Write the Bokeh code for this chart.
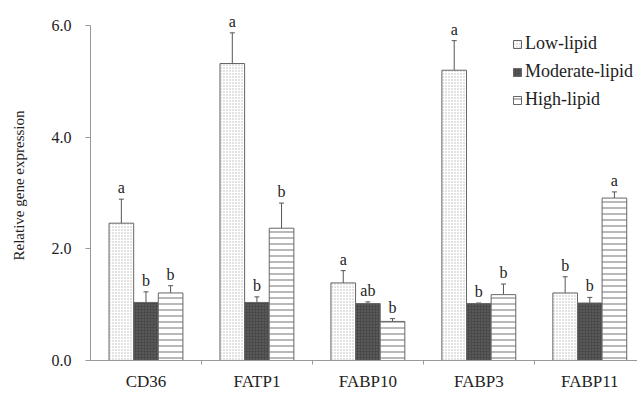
from bokeh.plotting import figure
from bokeh.models import (ColumnDataSource, FixedTicker, Range1d, Whisker, TeeHead,
                          Legend, LegendItem, CustomJSTickFormatter)
from bokeh.core.properties import value
from bokeh.embed import file_html
from bokeh.resources import INLINE

genes = ["CD36", "FATP1", "FABP10", "FABP3", "FABP11"]
groups = ["Low-lipid", "Moderate-lipid", "High-lipid"]
low = [2.46, 5.32, 1.39, 5.20, 1.21]
low_err = [0.43, 0.55, 0.22, 0.53, 0.29]
moderate = [1.04, 1.04, 1.02, 1.02, 1.03]
moderate_err = [0.19, 0.10, 0.03, 0.01, 0.10]
high = [1.21, 2.37, 0.70, 1.18, 2.91]
high_err = [0.13, 0.45, 0.05, 0.19, 0.11]
sig_low = ["a", "a", "a", "a", "b"]
sig_moderate = ["b", "b", "ab", "b", "b"]
sig_high = ["b", "b", "b", "b", "a"]
y_ticks = [0, 2, 4, 6]

FONT = "'Liberation Serif', 'Times New Roman', serif"
bar_w = 0.222
offsets = [-bar_w, 0.0, bar_w]

p = figure(width=637, height=393, output_backend="svg", toolbar_location=None,
           x_range=Range1d(0, 4.93), y_range=Range1d(0, 6.27),
           min_border_left=90, min_border_right=0, min_border_top=10, min_border_bottom=32)
p.outline_line_color = None
p.grid.grid_line_color = None
p.background_fill_color = "white"
p.border_fill_color = "white"

styles = [
    dict(fill_color="white", hatch_pattern="dot", hatch_color="#b8b8b8", hatch_scale=3, hatch_weight=1.0),
    dict(fill_color="#4a4a4a", hatch_pattern="dot", hatch_color="#707070", hatch_scale=3, hatch_weight=1.0),
    dict(fill_color="white", hatch_pattern="horizontal_line", hatch_color="#8a8a8a", hatch_scale=6, hatch_weight=1.2),
]
vals = [low, moderate, high]
errs = [low_err, moderate_err, high_err]
sigs = [sig_low, sig_moderate, sig_high]

renderers = []
for i in range(3):
    xs = [k + 0.5 + offsets[i] for k in range(len(genes))]
    tops = [v + e for v, e in zip(vals[i], errs[i])]
    src = ColumnDataSource(dict(x=xs, top=vals[i], upper=tops, sig=sigs[i]))
    r = p.vbar(x="x", top="top", width=bar_w, source=src, line_color="#666666",
               line_width=1, **styles[i])
    renderers.append(r)
    w = Whisker(base="x", lower="top", upper="upper", source=src, dimension="height",
                line_color="#555555", line_width=1,
                lower_head=None, upper_head=TeeHead(size=5, line_color="#555555", line_width=1))
    p.add_layout(w)
    p.text(x="x", y="upper", text="sig", source=src, text_align="center",
           text_baseline="bottom", y_offset=-3, text_font=value(FONT),
           text_font_size="16px", text_color="#222222")

legend = Legend(items=[LegendItem(label=g, renderers=[r]) for g, r in zip(groups, renderers)],
                location=(422, 250), border_line_color=None, background_fill_alpha=0,
                glyph_width=10, glyph_height=10, label_standoff=3, spacing=7,
                label_height=17, padding=0, margin=0,
                label_text_font=FONT, label_text_font_size="18px", label_text_color="#222222")
p.add_layout(legend)

# x axis
p.xaxis.ticker = FixedTicker(ticks=[k + 0.5 for k in range(len(genes))],
                             minor_ticks=[k for k in range(1, len(genes))])
p.xaxis.major_label_overrides = {k + 0.5: g for k, g in enumerate(genes)}
p.xaxis.major_tick_line_color = None
p.xaxis.major_tick_out = 0
p.xaxis.minor_tick_out = 4
p.xaxis.minor_tick_in = 0
p.xaxis.minor_tick_line_color = "#999999"
p.xaxis.axis_line_color = "#999999"
p.xaxis.major_label_standoff = 7
p.xaxis.axis_label_standoff = 0
p.xaxis.major_label_text_font = FONT
p.xaxis.major_label_text_font_size = "17px"
p.xaxis.major_label_text_color = "#222222"

# y axis
p.yaxis.ticker = FixedTicker(ticks=y_ticks, minor_ticks=[])
p.yaxis.bounds = (0, 6)
p.yaxis.formatter = CustomJSTickFormatter(code="return tick.toFixed(1);")
p.yaxis.axis_line_color = "#999999"
p.yaxis.major_tick_line_color = "#999999"
p.yaxis.major_tick_out = 5
p.yaxis.major_tick_in = 0
p.yaxis.major_label_standoff = 14
p.yaxis.major_label_text_font = FONT
p.yaxis.major_label_text_font_size = "16px"
p.yaxis.major_label_text_color = "#222222"
p.yaxis.axis_label = "Relative gene expression"
p.yaxis.axis_label_text_font = FONT
p.yaxis.axis_label_text_font_size = "15px"
p.yaxis.axis_label_text_font_style = "normal"
p.yaxis.axis_label_text_color = "#222222"
p.yaxis.axis_label_standoff = 22

open("out.html", "w").write(file_html(p, INLINE))
